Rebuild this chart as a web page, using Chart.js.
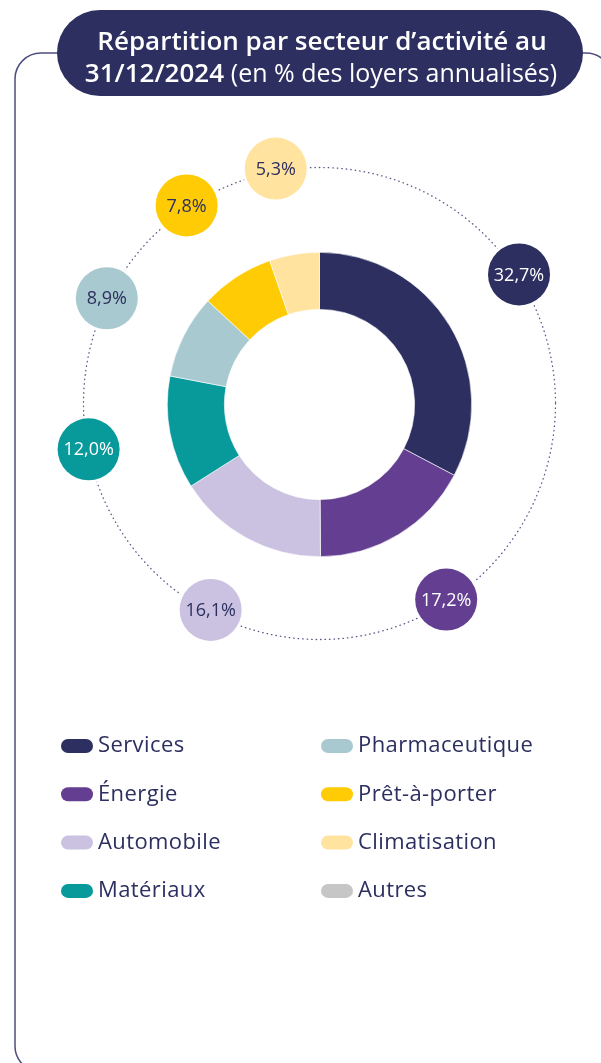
<!DOCTYPE html>
<html lang="fr">
<head>
<meta charset="utf-8">
<script src="https://cdn.jsdelivr.net/npm/chart.js@4.4.1/dist/chart.umd.min.js"></script>
<style>
  html, body { margin: 0; padding: 0; background: #fff; }
  #wrap { width: 601px; height: 1063px; }
</style>
</head>
<body>
<div id="wrap"><canvas id="sector-chart" width="601" height="1063"></canvas></div>
<script>
// data
const titleLine1 = 'Répartition par secteur d’activité au';
const titleDate = '31/12/2024';
const titleUnit = '(en % des loyers annualisés)';
const sectors = ['Services', 'Énergie', 'Automobile', 'Matériaux', 'Pharmaceutique', 'Prêt-à-porter', 'Climatisation', 'Autres'];
const shares = [32.7, 17.2, 16.1, 12.0, 8.9, 7.8, 5.3, 0];
const sectorColors = ['#2c2f5f', '#643e91', '#cbc2e2', '#08999b', '#a7c9cf', '#ffcb05', '#ffe39f', '#c6c6c6'];
const bubbleInk = ['#ffffff', '#ffffff', '#2c2f5f', '#ffffff', '#2c2f5f', '#2c2f5f', '#2c2f5f', '#2c2f5f'];

const NAVY = '#2c2f5f';
const FONT = '"Open Sans", "Noto Sans", sans-serif';

const fmtPct = v => `${v.toFixed(1).replace('.', ',')}%`;

// frame + title pill behind everything
const framePlugin = {
  id: 'frame',
  beforeDraw(chart) {
    const ctx = chart.ctx;
    ctx.save();
    ctx.strokeStyle = '#4d4f80';
    ctx.lineWidth = 1.5;
    ctx.beginPath();
    ctx.roundRect(15, 53, 597, 1019, 26);
    ctx.stroke();

    ctx.fillStyle = NAVY;
    ctx.beginPath();
    ctx.roundRect(57, 10, 526, 86, 43);
    ctx.fill();

    ctx.fillStyle = '#fff';
    ctx.textBaseline = 'alphabetic';
    ctx.textAlign = 'center';
    ctx.font = `600 26px ${FONT}`;
    ctx.fillText(titleLine1, 322, 50);

    ctx.textAlign = 'left';
    const boldFont = `600 26px ${FONT}`;
    const lightFont = `500 25px ${FONT}`;
    ctx.font = boldFont;
    const wDate = ctx.measureText(titleDate + ' ').width;
    ctx.font = lightFont;
    const wUnit = ctx.measureText(titleUnit).width;
    const x = 321 - (wDate + wUnit) / 2;
    ctx.font = boldFont;
    ctx.fillText(titleDate + ' ', x, 82);
    ctx.font = lightFont;
    ctx.fillText(titleUnit, x + wDate, 82);
    ctx.restore();
  },
};

// dotted orbit + value bubbles at each slice's mid-angle
const orbitPlugin = {
  id: 'orbit',
  afterDatasetsDraw(chart) {
    const ctx = chart.ctx;
    const arcs = chart.getDatasetMeta(0).data;
    if (!arcs.length) return;
    const cx = arcs[0].x, cy = arcs[0].y - 1;
    const R = 236;
    ctx.save();
    ctx.strokeStyle = '#55578a';
    ctx.lineWidth = 1.3;
    ctx.lineCap = 'round';
    ctx.setLineDash([0.5, 4]);
    ctx.beginPath();
    ctx.arc(cx, cy, R, 0, Math.PI * 2);
    ctx.stroke();
    ctx.setLineDash([]);

    arcs.forEach((arc, i) => {
      const v = chart.data.datasets[0].data[i];
      if (!v) return;
      const { startAngle, endAngle } = arc.getProps(['startAngle', 'endAngle'], true);
      const mid = (startAngle + endAngle) / 2 - 0.02;
      const bx = cx + Math.cos(mid) * R;
      const by = cy + Math.sin(mid) * R - 3;
      ctx.beginPath();
      ctx.arc(bx, by, 31, 0, Math.PI * 2);
      ctx.fillStyle = sectorColors[i];
      ctx.strokeStyle = '#fff';
      ctx.lineWidth = 5;
      ctx.stroke();
      ctx.fill();
      ctx.fillStyle = bubbleInk[i];
      ctx.font = `500 18px ${FONT}`;
      ctx.textAlign = 'center';
      ctx.textBaseline = 'middle';
      ctx.fillText(fmtPct(v), bx, by + 1);
    });
    ctx.restore();
  },
};

// two-column legend, filled column by column
const legendPlugin = {
  id: 'pillLegend',
  afterDraw(chart) {
    const ctx = chart.ctx;
    const labels = chart.data.labels;
    const colors = chart.data.datasets[0].backgroundColor;
    ctx.save();
    ctx.font = `400 22px ${FONT}`;
    ctx.letterSpacing = '0.4px';
    ctx.textBaseline = 'middle';
    ctx.textAlign = 'left';
    labels.forEach((lab, i) => {
      const col = Math.floor(i / 4), row = i % 4;
      const x = col === 0 ? 61 : 321;
      const y = 746 + row * 48.3;
      ctx.fillStyle = colors[i];
      ctx.beginPath();
      ctx.roundRect(x, y - 7, 32, 14, 7);
      ctx.fill();
      ctx.fillStyle = NAVY;
      ctx.fillText(lab, x + 37, y);
    });
    ctx.restore();
  },
};

new Chart(document.getElementById('sector-chart'), {
  type: 'doughnut',
  data: {
    labels: sectors,
    datasets: [{
      data: shares,
      backgroundColor: sectorColors,
      borderColor: '#ffffff',
      borderWidth: 0.6,
      hoverOffset: 0,
    }],
  },
  options: {
    animation: false,
    responsive: false,
    cutout: '62.5%',
    layout: { padding: { left: 167, right: 129, top: 252, bottom: 506 } },
    plugins: {
      legend: { display: false },
      tooltip: { enabled: false },
    },
  },
  plugins: [framePlugin, orbitPlugin, legendPlugin],
});
</script>
</body>
</html>
